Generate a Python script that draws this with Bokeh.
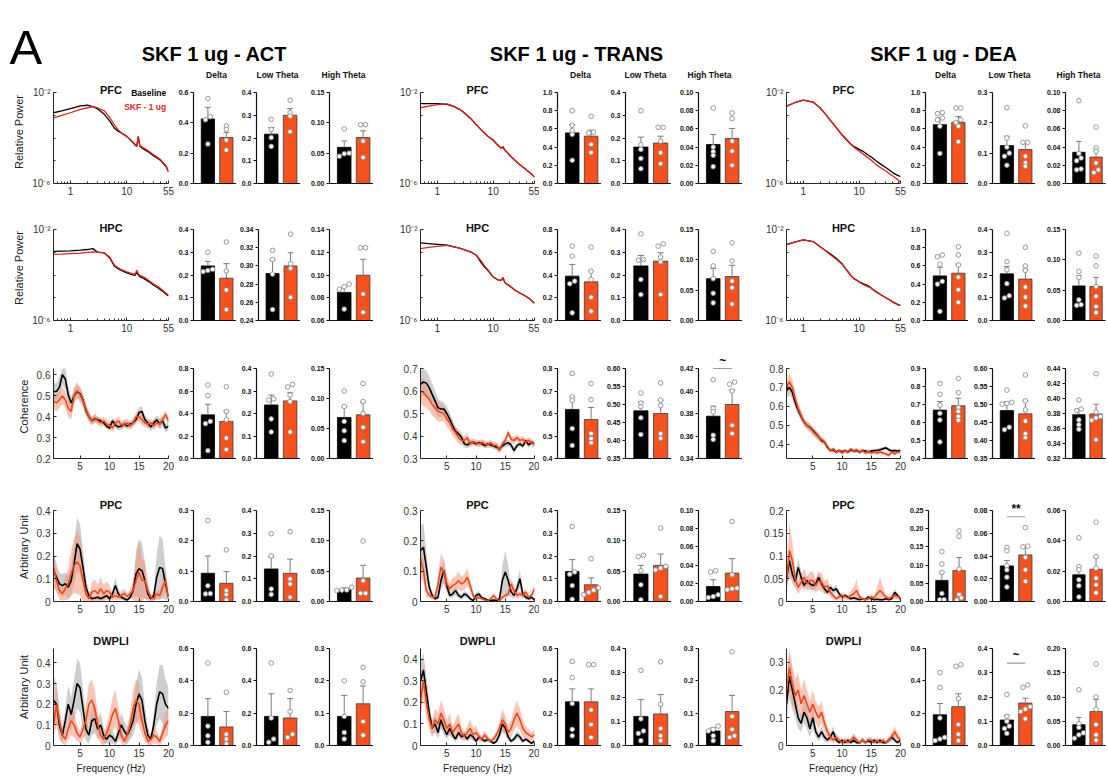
from bokeh.plotting import figure
from bokeh.layouts import column, row
from bokeh.models import Range1d, FixedTicker, CustomJSTickFormatter, PrintfTickFormatter, Label
from bokeh.embed import file_html
from bokeh.resources import INLINE

FONT = "Liberation Sans"

# ======================= DATA =======================
COL_TITLES = ["SKF 1 ug - ACT", "SKF 1 ug - TRANS", "SKF 1 ug - DEA"]
COLS = ["ACT", "TRANS", "DEA"]
ROWS = ["PFC", "HPC", "COH", "PPC", "DWPLI"]
ROW_TITLES = ["PFC", "HPC", None, "PPC", "DWPLI"]
Y_LABELS = ["Relative Power", "Relative Power", "Coherence", "Arbitrary Unit", "Arbitrary Unit"]
BANDS = ["Delta", "Low Theta", "High Theta"]
LEGEND = ["Baseline", "SKF - 1 ug"]

# ---- power spectra (log10 of relative power) ----
PSD_FREQ = [0.5, 0.7, 1, 1.5, 2, 2.5, 3, 4, 5, 6, 7, 8, 10, 12, 14, 15, 16, 17, 20, 25, 30, 35, 40, 45, 50, 55]
PFC_ACT_BASE_LOG10 = [-2.89, -2.81, -2.71, -2.59, -2.56, -2.62, -2.71, -2.96, -3.26, -3.56, -3.70, -3.78, -3.93, -4.12, -4.30, -4.38, -3.95, -4.35, -4.49, -4.64, -4.79, -4.89, -4.99, -5.14, -5.26, -5.48]
PFC_ACT_SKF_LOG10 = [-3.11, -3.01, -2.89, -2.74, -2.67, -2.62, -2.67, -2.81, -3.11, -3.41, -3.63, -3.78, -3.93, -4.10, -4.28, -4.36, -3.92, -4.33, -4.44, -4.59, -4.74, -4.85, -4.96, -5.11, -5.23, -5.48]
PFC_TRANS_BASE_LOG10 = [-2.49, -2.49, -2.49, -2.52, -2.62, -2.74, -2.88, -3.15, -3.42, -3.62, -3.78, -3.92, -4.09, -4.30, -4.45, -4.38, -4.52, -4.58, -4.78, -5.00, -5.18, -5.30, -5.42, -5.52, -5.62, -5.72]
PFC_TRANS_SKF_LOG10 = [-2.67, -2.60, -2.53, -2.50, -2.61, -2.74, -2.89, -3.16, -3.43, -3.62, -3.77, -3.91, -4.10, -4.31, -4.46, -4.40, -4.53, -4.58, -4.77, -5.00, -5.17, -5.30, -5.42, -5.51, -5.61, -5.72]
PFC_DEA_BASE_LOG10 = [-2.60, -2.45, -2.34, -2.42, -2.68, -2.95, -3.20, -3.58, -3.88, -4.08, -4.25, -4.37, -4.50, -4.60, -4.72, -4.78, -4.82, -4.86, -5.00, -5.17, -5.30, -5.42, -5.52, -5.60, -5.65, -5.70]
PFC_DEA_SKF_LOG10 = [-2.60, -2.45, -2.34, -2.42, -2.68, -2.95, -3.20, -3.58, -3.89, -4.10, -4.27, -4.40, -4.58, -4.72, -4.85, -4.90, -4.95, -5.00, -5.17, -5.33, -5.45, -5.57, -5.67, -5.76, -5.85, -5.93]
HPC_ACT_BASE_LOG10 = [-2.96, -2.95, -2.94, -2.91, -2.88, -2.84, -2.99, -3.03, -3.25, -3.60, -3.72, -3.80, -3.91, -3.97, -4.02, -3.88, -4.00, -4.07, -4.15, -4.30, -4.45, -4.55, -4.66, -4.75, -4.85, -4.92]
HPC_ACT_SKF_LOG10 = [-3.09, -3.08, -3.06, -3.04, -3.01, -2.98, -2.99, -3.03, -3.22, -3.56, -3.68, -3.76, -3.86, -3.93, -3.97, -3.79, -3.95, -4.02, -4.09, -4.25, -4.40, -4.50, -4.60, -4.70, -4.80, -4.88]
HPC_TRANS_BASE_LOG10 = [-2.59, -2.62, -2.65, -2.69, -2.76, -2.82, -2.88, -2.99, -3.13, -3.43, -3.65, -3.79, -4.09, -4.21, -4.24, -4.12, -4.30, -4.38, -4.49, -4.68, -4.79, -4.88, -4.97, -5.05, -5.15, -5.24]
HPC_TRANS_SKF_LOG10 = [-2.84, -2.79, -2.74, -2.70, -2.76, -2.82, -2.88, -2.99, -3.13, -3.36, -3.60, -3.77, -4.08, -4.20, -4.24, -4.10, -4.29, -4.37, -4.48, -4.67, -4.78, -4.87, -4.96, -5.04, -5.14, -5.23]
HPC_DEA_BASE_LOG10 = [-2.65, -2.55, -2.46, -2.53, -2.76, -2.92, -3.06, -3.29, -3.52, -3.79, -4.00, -4.15, -4.30, -4.39, -4.46, -4.50, -4.55, -4.60, -4.73, -4.88, -5.00, -5.09, -5.18, -5.25, -5.30, -5.33]
HPC_DEA_SKF_LOG10 = [-2.68, -2.56, -2.46, -2.53, -2.76, -2.93, -3.10, -3.33, -3.54, -3.80, -4.01, -4.16, -4.31, -4.43, -4.50, -4.53, -4.57, -4.62, -4.74, -4.89, -5.01, -5.10, -5.19, -5.26, -5.31, -5.35]

# ---- coherence / PPC / DWPLI spectra (mean and SEM) ----
FREQ = [0.5, 1.0, 1.5, 2.0, 2.5, 3.0, 3.5, 4.0, 4.5, 5.0, 5.5, 6.0, 6.5, 7.0, 7.5, 8.0, 8.5, 9.0, 9.5, 10.0,
        10.5, 11.0, 11.5, 12.0, 12.5, 13.0, 13.5, 14.0, 14.5, 15.0, 15.5, 16.0, 16.5, 17.0, 17.5, 18.0, 18.5, 19.0, 19.5, 20.0]

COH_ACT_BASE = [0.52, 0.52, 0.54, 0.60, 0.58, 0.505, 0.465, 0.50, 0.52, 0.51, 0.48, 0.43, 0.40, 0.38, 0.39, 0.385, 0.38, 0.37, 0.355, 0.345, 0.38, 0.36, 0.35, 0.355, 0.365, 0.355, 0.365, 0.37, 0.385, 0.42, 0.425, 0.385, 0.37, 0.35, 0.37, 0.385, 0.365, 0.38, 0.345, 0.355]
COH_ACT_BASE_SEM = [0.04, 0.04, 0.05, 0.05, 0.05, 0.04, 0.03, 0.03, 0.03, 0.03, 0.03, 0.025, 0.02, 0.02, 0.02, 0.015, 0.015, 0.015, 0.015, 0.015, 0.015, 0.015, 0.015, 0.015, 0.015, 0.015, 0.015, 0.015, 0.02, 0.025, 0.025, 0.02, 0.02, 0.02, 0.02, 0.02, 0.025, 0.025, 0.02, 0.02]
COH_ACT_SKF = [0.475, 0.465, 0.48, 0.50, 0.48, 0.44, 0.425, 0.50, 0.525, 0.505, 0.475, 0.435, 0.40, 0.38, 0.395, 0.38, 0.37, 0.38, 0.365, 0.36, 0.345, 0.37, 0.38, 0.36, 0.365, 0.37, 0.355, 0.37, 0.40, 0.40, 0.385, 0.37, 0.365, 0.37, 0.355, 0.37, 0.365, 0.385, 0.41, 0.38]
COH_ACT_SKF_SEM = [0.04, 0.04, 0.04, 0.04, 0.04, 0.04, 0.04, 0.04, 0.04, 0.035, 0.03, 0.03, 0.025, 0.02, 0.02, 0.02, 0.02, 0.02, 0.02, 0.02, 0.02, 0.02, 0.02, 0.02, 0.02, 0.02, 0.02, 0.02, 0.02, 0.025, 0.025, 0.02, 0.02, 0.02, 0.02, 0.02, 0.02, 0.02, 0.02, 0.02]

COH_TRANS_BASE = [0.63, 0.64, 0.635, 0.615, 0.585, 0.555, 0.525, 0.52, 0.52, 0.50, 0.475, 0.445, 0.42, 0.41, 0.395, 0.365, 0.36, 0.37, 0.372, 0.365, 0.37, 0.365, 0.357, 0.365, 0.36, 0.355, 0.35, 0.343, 0.355, 0.365, 0.37, 0.36, 0.335, 0.357, 0.365, 0.355, 0.38, 0.36, 0.372, 0.365]
COH_TRANS_BASE_SEM = [0.06, 0.06, 0.055, 0.05, 0.05, 0.045, 0.04, 0.035, 0.03, 0.03, 0.03, 0.025, 0.02, 0.02, 0.02, 0.015, 0.015, 0.015, 0.012, 0.012, 0.012, 0.012, 0.012, 0.012, 0.012, 0.012, 0.012, 0.012, 0.012, 0.015, 0.015, 0.015, 0.015, 0.012, 0.012, 0.012, 0.012, 0.012, 0.012, 0.012]
COH_TRANS_SKF = [0.60, 0.593, 0.578, 0.563, 0.54, 0.525, 0.51, 0.505, 0.50, 0.475, 0.46, 0.43, 0.415, 0.393, 0.38, 0.38, 0.393, 0.365, 0.375, 0.37, 0.365, 0.372, 0.365, 0.36, 0.37, 0.357, 0.36, 0.335, 0.365, 0.38, 0.415, 0.385, 0.38, 0.393, 0.38, 0.385, 0.372, 0.38, 0.372, 0.36]
COH_TRANS_SKF_SEM = [0.06, 0.06, 0.055, 0.05, 0.05, 0.045, 0.045, 0.04, 0.035, 0.035, 0.035, 0.03, 0.03, 0.025, 0.02, 0.02, 0.02, 0.015, 0.015, 0.015, 0.015, 0.015, 0.015, 0.015, 0.015, 0.015, 0.015, 0.015, 0.015, 0.015, 0.015, 0.015, 0.015, 0.015, 0.015, 0.015, 0.015, 0.015, 0.015, 0.015]

COH_DEA_BASE = [0.685, 0.70, 0.675, 0.62, 0.58, 0.548, 0.518, 0.50, 0.49, 0.475, 0.457, 0.44, 0.42, 0.413, 0.385, 0.368, 0.372, 0.36, 0.368, 0.36, 0.368, 0.36, 0.372, 0.365, 0.368, 0.36, 0.368, 0.365, 0.36, 0.365, 0.368, 0.368, 0.372, 0.377, 0.382, 0.372, 0.365, 0.368, 0.365, 0.368]
COH_DEA_BASE_SEM = [0.04, 0.04, 0.035, 0.03, 0.025, 0.02, 0.02, 0.02, 0.02, 0.02, 0.02, 0.015, 0.015, 0.015, 0.01, 0.01, 0.01, 0.01, 0.01, 0.01, 0.01, 0.01, 0.01, 0.01, 0.01, 0.01, 0.01, 0.01, 0.01, 0.01, 0.01, 0.01, 0.01, 0.01, 0.01, 0.01, 0.01, 0.01, 0.01, 0.01]
COH_DEA_SKF = [0.70, 0.73, 0.70, 0.64, 0.59, 0.553, 0.518, 0.50, 0.488, 0.47, 0.453, 0.44, 0.425, 0.413, 0.39, 0.368, 0.377, 0.36, 0.368, 0.355, 0.368, 0.36, 0.377, 0.365, 0.372, 0.36, 0.368, 0.355, 0.365, 0.355, 0.36, 0.355, 0.36, 0.355, 0.35, 0.343, 0.36, 0.35, 0.36, 0.36]
COH_DEA_SKF_SEM = [0.04, 0.045, 0.04, 0.035, 0.03, 0.025, 0.02, 0.02, 0.02, 0.02, 0.02, 0.02, 0.015, 0.015, 0.015, 0.01, 0.01, 0.01, 0.01, 0.01, 0.01, 0.01, 0.01, 0.01, 0.01, 0.01, 0.01, 0.01, 0.01, 0.01, 0.01, 0.01, 0.01, 0.01, 0.01, 0.01, 0.01, 0.01, 0.01, 0.01]

PPC_ACT_BASE = [0.136, 0.107, 0.078, 0.07, 0.078, 0.063, 0.092, 0.166, 0.254, 0.23, 0.15, 0.063, 0.026, 0.012, 0.015, 0.019, 0.012, 0.019, 0.026, 0.012, 0.034, 0.07, 0.034, 0.019, 0.012, 0.007, 0.019, 0.048, 0.122, 0.144, 0.136, 0.092, 0.034, 0.012, 0.026, 0.107, 0.15, 0.144, 0.078, 0.019]
PPC_ACT_BASE_SEM = [0.08, 0.06, 0.05, 0.05, 0.05, 0.05, 0.06, 0.09, 0.115, 0.11, 0.08, 0.04, 0.02, 0.01, 0.01, 0.01, 0.01, 0.01, 0.015, 0.01, 0.02, 0.035, 0.02, 0.01, 0.01, 0.005, 0.01, 0.03, 0.1, 0.13, 0.12, 0.08, 0.03, 0.01, 0.02, 0.1, 0.14, 0.13, 0.07, 0.01]
PPC_ACT_SKF = [0.15, 0.092, 0.048, 0.034, 0.056, 0.078, 0.122, 0.158, 0.173, 0.158, 0.092, 0.034, 0.012, 0.041, 0.048, 0.034, 0.056, 0.034, 0.048, 0.041, 0.019, 0.026, 0.019, 0.026, 0.037, 0.022, 0.034, 0.048, 0.092, 0.129, 0.092, 0.092, 0.048, 0.019, 0.012, 0.034, 0.026, 0.063, 0.092, 0.019]
PPC_ACT_SKF_SEM = [0.07, 0.05, 0.04, 0.03, 0.05, 0.07, 0.1, 0.12, 0.14, 0.13, 0.09, 0.04, 0.02, 0.04, 0.05, 0.04, 0.05, 0.04, 0.04, 0.03, 0.015, 0.02, 0.015, 0.02, 0.02, 0.015, 0.02, 0.04, 0.1, 0.14, 0.1, 0.08, 0.04, 0.015, 0.01, 0.02, 0.02, 0.04, 0.05, 0.02]

PPC_TRANS_BASE = [0.168, 0.179, 0.113, 0.047, 0.02, 0.009, 0.014, 0.069, 0.102, 0.053, 0.02, 0.025, 0.036, 0.02, 0.014, 0.025, 0.02, 0.009, 0.003, 0.02, 0.025, 0.012, 0.009, 0.005, 0.003, 0.005, 0.003, 0.009, 0.069, 0.097, 0.069, 0.031, 0.02, 0.042, 0.075, 0.025, 0.014, 0.009, 0.014, 0.005]
PPC_TRANS_BASE_SEM = [0.08, 0.08, 0.05, 0.02, 0.01, 0.005, 0.01, 0.03, 0.04, 0.02, 0.01, 0.01, 0.015, 0.01, 0.01, 0.01, 0.01, 0.005, 0.003, 0.01, 0.01, 0.005, 0.005, 0.003, 0.002, 0.003, 0.002, 0.005, 0.05, 0.07, 0.05, 0.015, 0.01, 0.02, 0.03, 0.01, 0.008, 0.005, 0.008, 0.003]
PPC_TRANS_SKF = [0.141, 0.102, 0.036, 0.02, 0.016, 0.014, 0.058, 0.113, 0.097, 0.058, 0.042, 0.053, 0.058, 0.069, 0.058, 0.064, 0.08, 0.053, 0.02, 0.009, 0.014, 0.009, 0.005, 0.003, 0.009, 0.02, 0.009, 0.001, 0.014, 0.02, 0.025, 0.058, 0.036, 0.02, 0.025, 0.02, 0.031, 0.014, 0.02, 0.042]
PPC_TRANS_SKF_SEM = [0.06, 0.04, 0.02, 0.01, 0.01, 0.01, 0.03, 0.045, 0.04, 0.03, 0.02, 0.025, 0.025, 0.03, 0.025, 0.025, 0.03, 0.02, 0.01, 0.005, 0.005, 0.005, 0.003, 0.002, 0.005, 0.01, 0.005, 0.001, 0.005, 0.01, 0.01, 0.02, 0.015, 0.01, 0.01, 0.01, 0.01, 0.005, 0.01, 0.015]

PPC_DEA_BASE = [0.05, 0.09, 0.06, 0.044, 0.075, 0.053, 0.035, 0.046, 0.039, 0.035, 0.039, 0.053, 0.039, 0.028, 0.02, 0.031, 0.024, 0.028, 0.017, 0.01, 0.013, 0.01, 0.006, 0.008, 0.006, 0.004, 0.006, 0.004, 0.01, 0.006, 0.004, 0.005, 0.004, 0.004, 0.006, 0.004, 0.006, 0.02, 0.013, 0.006]
PPC_DEA_BASE_SEM = [0.02, 0.03, 0.02, 0.015, 0.02, 0.015, 0.01, 0.012, 0.01, 0.01, 0.01, 0.012, 0.01, 0.008, 0.006, 0.008, 0.006, 0.008, 0.005, 0.004, 0.004, 0.004, 0.003, 0.003, 0.003, 0.002, 0.003, 0.002, 0.004, 0.003, 0.002, 0.002, 0.002, 0.002, 0.003, 0.002, 0.003, 0.008, 0.005, 0.003]
PPC_DEA_SKF = [0.046, 0.112, 0.09, 0.05, 0.031, 0.042, 0.053, 0.039, 0.046, 0.046, 0.035, 0.046, 0.042, 0.031, 0.035, 0.02, 0.013, 0.006, 0.01, 0.013, 0.011, 0.008, 0.013, 0.017, 0.024, 0.01, 0.006, 0.004, 0.006, 0.01, 0.008, 0.017, 0.024, 0.017, 0.01, 0.006, 0.01, 0.013, 0.011, 0.008]
PPC_DEA_SKF_SEM = [0.02, 0.06, 0.04, 0.02, 0.015, 0.015, 0.02, 0.015, 0.02, 0.02, 0.015, 0.02, 0.02, 0.015, 0.015, 0.01, 0.008, 0.004, 0.006, 0.008, 0.006, 0.005, 0.01, 0.015, 0.025, 0.006, 0.004, 0.002, 0.004, 0.006, 0.005, 0.015, 0.03, 0.015, 0.006, 0.004, 0.006, 0.008, 0.006, 0.005]

DWPLI_ACT_BASE = [0.22, 0.2, 0.1, 0.05, 0.12, 0.2, 0.15, 0.22, 0.3, 0.28, 0.18, 0.08, 0.05, 0.12, 0.13, 0.08, 0.1, 0.05, 0.03, 0.05, 0.04, 0.02, 0.06, 0.1, 0.07, 0.05, 0.08, 0.12, 0.2, 0.25, 0.22, 0.12, 0.05, 0.03, 0.1, 0.2, 0.26, 0.25, 0.2, 0.18]
DWPLI_ACT_BASE_SEM = [0.12, 0.1, 0.07, 0.04, 0.06, 0.09, 0.08, 0.1, 0.12, 0.12, 0.1, 0.06, 0.04, 0.07, 0.07, 0.05, 0.06, 0.04, 0.02, 0.04, 0.03, 0.02, 0.04, 0.06, 0.05, 0.04, 0.05, 0.07, 0.1, 0.12, 0.11, 0.07, 0.04, 0.02, 0.06, 0.1, 0.13, 0.14, 0.12, 0.1]
DWPLI_ACT_SKF = [0.1, 0.2, 0.12, 0.05, 0.03, 0.08, 0.12, 0.1, 0.06, 0.04, 0.08, 0.12, 0.2, 0.22, 0.18, 0.1, 0.05, 0.03, 0.06, 0.1, 0.15, 0.18, 0.12, 0.05, 0.02, 0.05, 0.1, 0.18, 0.22, 0.2, 0.12, 0.06, 0.02, 0.03, 0.05, 0.04, 0.02, 0.06, 0.1, 0.12]
DWPLI_ACT_SKF_SEM = [0.06, 0.1, 0.07, 0.04, 0.03, 0.05, 0.07, 0.06, 0.04, 0.03, 0.05, 0.07, 0.1, 0.1, 0.09, 0.06, 0.04, 0.03, 0.04, 0.06, 0.08, 0.09, 0.07, 0.04, 0.02, 0.04, 0.06, 0.09, 0.1, 0.1, 0.07, 0.04, 0.02, 0.03, 0.04, 0.03, 0.02, 0.04, 0.06, 0.07]

DWPLI_TRANS_BASE = [0.3, 0.35, 0.25, 0.15, 0.08, 0.1, 0.06, 0.12, 0.08, 0.05, 0.08, 0.05, 0.03, 0.06, 0.04, 0.05, 0.03, 0.05, 0.04, 0.02, 0.04, 0.03, 0.02, 0.03, 0.02, 0.01, 0.02, 0.05, 0.1, 0.08, 0.04, 0.02, 0.03, 0.05, 0.04, 0.02, 0.03, 0.02, 0.01, 0.02]
DWPLI_TRANS_BASE_SEM = [0.08, 0.08, 0.07, 0.05, 0.03, 0.04, 0.03, 0.04, 0.03, 0.02, 0.03, 0.02, 0.015, 0.02, 0.015, 0.02, 0.015, 0.02, 0.015, 0.01, 0.015, 0.01, 0.01, 0.01, 0.01, 0.005, 0.01, 0.02, 0.04, 0.03, 0.02, 0.01, 0.01, 0.02, 0.015, 0.01, 0.01, 0.01, 0.005, 0.01]
DWPLI_TRANS_SKF = [0.2, 0.3, 0.2, 0.12, 0.08, 0.12, 0.1, 0.15, 0.12, 0.08, 0.1, 0.06, 0.08, 0.1, 0.06, 0.04, 0.06, 0.08, 0.05, 0.06, 0.04, 0.03, 0.05, 0.03, 0.02, 0.03, 0.05, 0.08, 0.12, 0.1, 0.06, 0.08, 0.12, 0.15, 0.12, 0.08, 0.06, 0.05, 0.04, 0.05]
DWPLI_TRANS_SKF_SEM = [0.07, 0.08, 0.07, 0.05, 0.04, 0.05, 0.05, 0.06, 0.05, 0.04, 0.05, 0.03, 0.04, 0.05, 0.03, 0.02, 0.03, 0.04, 0.03, 0.03, 0.02, 0.015, 0.02, 0.015, 0.01, 0.015, 0.02, 0.03, 0.05, 0.04, 0.03, 0.04, 0.05, 0.06, 0.05, 0.04, 0.03, 0.025, 0.02, 0.025]

DWPLI_DEA_BASE = [0.15, 0.25, 0.2, 0.15, 0.1, 0.08, 0.12, 0.1, 0.06, 0.1, 0.05, 0.03, 0.05, 0.03, 0.02, 0.03, 0.05, 0.02, 0.01, 0.02, 0.01, 0.02, 0.01, 0.02, 0.01, 0.01, 0.02, 0.01, 0.02, 0.01, 0.02, 0.01, 0.02, 0.01, 0.01, 0.02, 0.03, 0.02, 0.01, 0.02]
DWPLI_DEA_BASE_SEM = [0.06, 0.08, 0.07, 0.05, 0.04, 0.03, 0.04, 0.04, 0.03, 0.04, 0.02, 0.015, 0.02, 0.015, 0.01, 0.015, 0.02, 0.01, 0.005, 0.01, 0.005, 0.01, 0.005, 0.01, 0.005, 0.005, 0.01, 0.005, 0.01, 0.005, 0.01, 0.005, 0.01, 0.005, 0.005, 0.01, 0.015, 0.01, 0.005, 0.01]
DWPLI_DEA_SKF = [0.2, 0.28, 0.22, 0.18, 0.2, 0.15, 0.18, 0.15, 0.12, 0.15, 0.12, 0.1, 0.12, 0.08, 0.05, 0.03, 0.02, 0.03, 0.02, 0.01, 0.02, 0.01, 0.02, 0.03, 0.02, 0.01, 0.02, 0.01, 0.02, 0.02, 0.01, 0.02, 0.01, 0.02, 0.01, 0.02, 0.03, 0.05, 0.03, 0.02]
DWPLI_DEA_SKF_SEM = [0.07, 0.08, 0.07, 0.06, 0.06, 0.05, 0.06, 0.05, 0.04, 0.05, 0.04, 0.04, 0.04, 0.03, 0.02, 0.015, 0.01, 0.015, 0.01, 0.005, 0.01, 0.005, 0.01, 0.015, 0.01, 0.005, 0.01, 0.005, 0.01, 0.01, 0.005, 0.01, 0.005, 0.01, 0.005, 0.01, 0.015, 0.02, 0.015, 0.01]

# line-plot y axes (range, ticks) for rows 3-5
LINE_YAXIS = {
    ("COH", "ACT"): (0.2, 0.63, [0.2, 0.3, 0.4, 0.5, 0.6]),
    ("COH", "TRANS"): (0.3, 0.7, [0.3, 0.4, 0.5, 0.6, 0.7]),
    ("COH", "DEA"): (0.326, 0.8, [0.4, 0.5, 0.6, 0.7, 0.8]),
    ("PPC", "ACT"): (0.0, 0.4, [0, 0.1, 0.2, 0.3, 0.4]),
    ("PPC", "TRANS"): (0.0, 0.3, [0, 0.1, 0.2, 0.3]),
    ("PPC", "DEA"): (0.0, 0.2, [0, 0.05, 0.1, 0.15, 0.2]),
    ("DWPLI", "ACT"): (0.0, 0.47, [0, 0.1, 0.2, 0.3, 0.4]),
    ("DWPLI", "TRANS"): (0.0, 0.45, [0, 0.1, 0.2, 0.3, 0.4]),
    ("DWPLI", "DEA"): (0.0, 0.35, [0, 0.1, 0.2, 0.3]),
}

# ---- band bar charts: [baseline, SKF] means, SEMs, individual animals; y axes ----
PFC_ACT_MEAN = [[0.426, 0.217, 0.0596], [0.303, 0.300, 0.0758]]
PFC_ACT_SEM = [[0.076, 0.029, 0.0104], [0.032, 0.029, 0.011]]
PFC_ACT_PTS = [[[0.56, 0.44, 0.42, 0.26], [0.282, 0.238, 0.202, 0.163], [0.090, 0.050, 0.049, 0.045]],
               [[0.379, 0.357, 0.286, 0.221], [0.366, 0.311, 0.296, 0.228], [0.097, 0.097, 0.070, 0.043]]]
PFC_ACT_YAX = [(0, 0.6, [0, 0.2, 0.4, 0.6]), (0, 0.4, [0, 0.1, 0.2, 0.3, 0.4]), (0, 0.15, [0, 0.05, 0.10, 0.15])]

PFC_TRANS_MEAN = [[0.556, 0.160, 0.0429], [0.520, 0.178, 0.0495]]
PFC_TRANS_SEM = [[0.091, 0.044, 0.011], [0.065, 0.030, 0.011]]
PFC_TRANS_PTS = [[[0.80, 0.64, 0.58, 0.54, 0.255], [0.32, 0.17, 0.15, 0.11, 0.065], [0.083, 0.040, 0.035, 0.031, 0.0185]],
                 [[0.738, 0.564, 0.556, 0.43, 0.34], [0.247, 0.247, 0.186, 0.135, 0.087], [0.0775, 0.0713, 0.0466, 0.0356, 0.020]]]
PFC_TRANS_YAX = [(0, 1.0, [0, 0.2, 0.4, 0.6, 0.8, 1.0]), (0, 0.4, [0, 0.1, 0.2, 0.3, 0.4]), (0, 0.10, [0, 0.02, 0.04, 0.06, 0.08, 0.10])]

PFC_DEA_MEAN = [[0.646, 0.125, 0.0343], [0.672, 0.112, 0.029]]
PFC_DEA_SEM = [[0.080, 0.031, 0.012], [0.065, 0.024, 0.0064]]
PFC_DEA_PTS = [[[0.77, 0.78, 0.72, 0.70, 0.63, 0.33], [0.25, 0.15, 0.12, 0.10, 0.09, 0.06], [0.091, 0.033, 0.028, 0.025, 0.016, 0.015]],
               [[0.83, 0.83, 0.70, 0.67, 0.63, 0.46], [0.19, 0.136, 0.136, 0.09, 0.068, 0.057], [0.062, 0.039, 0.0354, 0.0226, 0.015, 0.012]]]
PFC_DEA_YAX = [(0, 1.0, [0, 0.2, 0.4, 0.6, 0.8, 1.0]), (0, 0.3, [0, 0.1, 0.2, 0.3]), (0, 0.10, [0, 0.02, 0.04, 0.06, 0.08, 0.10])]

HPC_ACT_MEAN = [[0.240, 0.2916, 0.0847], [0.186, 0.300, 0.0998]]
HPC_ACT_SEM = [[0.020, 0.0154, 0.0043], [0.064, 0.0145, 0.014]]
HPC_ACT_PTS = [[[0.30, 0.225, 0.22, 0.215], [0.317, 0.307, 0.291, 0.252], [0.092, 0.0897, 0.0876, 0.070]],
               [[0.345, 0.218, 0.134, 0.048], [0.335, 0.3025, 0.2975, 0.2655], [0.124, 0.124, 0.0833, 0.0673]]]
HPC_ACT_YAX = [(0, 0.4, [0, 0.1, 0.2, 0.3, 0.4]), (0.24, 0.34, [0.24, 0.26, 0.28, 0.30, 0.32, 0.34]), (0.06, 0.14, [0.06, 0.08, 0.10, 0.12, 0.14])]

HPC_TRANS_MEAN = [[0.390, 0.240, 0.069], [0.340, 0.261, 0.0725]]
HPC_TRANS_SEM = [[0.103, 0.046, 0.017], [0.094, 0.037, 0.0185]]
HPC_TRANS_PTS = [[[0.654, 0.566, 0.346, 0.323, 0.067], [0.381, 0.268, 0.265, 0.18, 0.114], [0.114, 0.09, 0.069, 0.045, 0.029]],
                 [[0.645, 0.434, 0.36, 0.205, 0.082], [0.337, 0.327, 0.279, 0.258, 0.114], [0.128, 0.098, 0.065, 0.054, 0.027]]]
HPC_TRANS_YAX = [(0, 0.8, [0, 0.2, 0.4, 0.6, 0.8]), (0, 0.4, [0, 0.1, 0.2, 0.3, 0.4]), (0, 0.15, [0, 0.05, 0.10, 0.15])]

HPC_DEA_MEAN = [[0.490, 0.205, 0.057], [0.520, 0.182, 0.056]]
HPC_DEA_SEM = [[0.095, 0.032, 0.017], [0.100, 0.041, 0.015]]
HPC_DEA_PTS = [[[0.72, 0.70, 0.62, 0.43, 0.40, 0.10], [0.383, 0.259, 0.223, 0.162, 0.109, 0.099], [0.111, 0.081, 0.071, 0.034, 0.026, 0.025]],
               [[0.81, 0.72, 0.61, 0.476, 0.338, 0.20], [0.322, 0.24, 0.22, 0.147, 0.103, 0.063], [0.106, 0.09, 0.056, 0.04, 0.023, 0.013]]]
HPC_DEA_YAX = [(0, 1.0, [0, 0.2, 0.4, 0.6, 0.8, 1.0]), (0, 0.4, [0, 0.1, 0.2, 0.3, 0.4]), (0, 0.15, [0, 0.05, 0.10, 0.15])]

COH_ACT_MEAN = [[0.388, 0.238, 0.0684], [0.330, 0.256, 0.0728]]
COH_ACT_SEM = [[0.094, 0.044, 0.018], [0.094, 0.038, 0.021]]
COH_ACT_PTS = [[[0.653, 0.559, 0.33, 0.31, 0.07], [0.375, 0.265, 0.26, 0.176, 0.118], [0.1125, 0.0866, 0.0618, 0.0463, 0.0298]],
               [[0.638, 0.418, 0.344, 0.182, 0.08], [0.329, 0.318, 0.282, 0.253, 0.118], [0.125, 0.095, 0.075, 0.052, 0.028]]]
COH_ACT_YAX = [(0, 0.8, [0, 0.2, 0.4, 0.6, 0.8]), (0, 0.4, [0, 0.1, 0.2, 0.3, 0.4]), (0, 0.15, [0, 0.05, 0.10, 0.15])]

COH_TRANS_MEAN = [[0.618, 0.4824, 0.3776], [0.573, 0.475, 0.388]]
COH_TRANS_SEM = [[0.056, 0.025, 0.009], [0.054, 0.037, 0.0127]]
COH_TRANS_PTS = [[[0.778, 0.674, 0.659, 0.533, 0.458], [0.532, 0.504, 0.494, 0.463, 0.4167], [0.410, 0.3844, 0.3815, 0.3607, 0.3569]],
                 [[0.733, 0.662, 0.511, 0.489, 0.47], [0.56, 0.512, 0.497, 0.419, 0.406], [0.408, 0.406, 0.400, 0.3696, 0.3622]]]
COH_TRANS_YAX = [(0.4, 0.8, [0.4, 0.5, 0.6, 0.7, 0.8]), (0.35, 0.60, [0.35, 0.40, 0.45, 0.50, 0.55, 0.60]), (0.34, 0.42, [0.34, 0.36, 0.38, 0.40, 0.42])]

COH_DEA_MEAN = [[0.669, 0.483, 0.3785], [0.693, 0.474, 0.3794]]
COH_DEA_SEM = [[0.048, 0.025, 0.0075], [0.042, 0.036, 0.013]]
COH_DEA_PTS = [[[0.816, 0.757, 0.697, 0.651, 0.614, 0.492], [0.54, 0.506, 0.503, 0.501, 0.437, 0.43], [0.398, 0.386, 0.384, 0.3715, 0.365, 0.359]],
               [[0.845, 0.766, 0.684, 0.662, 0.633, 0.612], [0.582, 0.51, 0.485, 0.454, 0.419, 0.408], [0.433, 0.382, 0.376, 0.374, 0.371, 0.345]]]
COH_DEA_YAX = [(0.4, 0.9, [0.4, 0.5, 0.6, 0.7, 0.8, 0.9]), (0.35, 0.60, [0.35, 0.40, 0.45, 0.50, 0.55, 0.60]), (0.32, 0.44, [0.32, 0.34, 0.36, 0.38, 0.40, 0.42, 0.44])]

PPC_ACT_MEAN = [[0.093, 0.143, 0.0191], [0.060, 0.124, 0.0387]]
PPC_ACT_SEM = [[0.057, 0.051, 0.0033], [0.039, 0.062, 0.021]]
PPC_ACT_PTS = [[[0.267, 0.052, 0.025, 0.026], [0.298, 0.20, 0.055, 0.031], [0.0235, 0.019, 0.0188, 0.018]],
               [[0.17, 0.036, 0.023, 0.005], [0.307, 0.099, 0.077, 0.019], [0.0998, 0.0344, 0.0136, 0.0136]]]
PPC_ACT_YAX = [(0, 0.3, [0, 0.1, 0.2, 0.3]), (0, 0.4, [0, 0.1, 0.2, 0.3, 0.4]), (0, 0.15, [0, 0.05, 0.10, 0.15])]

PPC_TRANS_MEAN = [[0.132, 0.0452, 0.0165], [0.0735, 0.0596, 0.0312]]
PPC_TRANS_SEM = [[0.052, 0.0144, 0.0074], [0.030, 0.0187, 0.0158]]
PPC_TRANS_PTS = [[[0.33, 0.13, 0.12, 0.07, 0.01], [0.0761, 0.0739, 0.0507, 0.0276, 0.0028], [0.0338, 0.0324, 0.0074, 0.0055, 0.0044]],
                 [[0.188, 0.06, 0.05, 0.04, 0.03], [0.121, 0.058, 0.055, 0.052, 0.0083], [0.088, 0.0294, 0.0147, 0.014, 0.0129]]]
PPC_TRANS_YAX = [(0, 0.4, [0, 0.1, 0.2, 0.3, 0.4]), (0, 0.15, [0, 0.05, 0.10, 0.15]), (0, 0.10, [0, 0.02, 0.04, 0.06, 0.08, 0.10])]

PPC_DEA_MEAN = [[0.058, 0.0313, 0.0176], [0.085, 0.0409, 0.0213]]
PPC_DEA_SEM = [[0.022, 0.0047, 0.0054], [0.036, 0.0066, 0.0078]]
PPC_DEA_PTS = [[[0.137, 0.103, 0.08, 0.022, 0.005, 0.005], [0.0475, 0.0446, 0.0313, 0.0278, 0.0214, 0.0128], [0.042, 0.023, 0.0209, 0.0143, 0.0104, 0.003]],
               [[0.194, 0.179, 0.089, 0.019, 0.01, 0.004], [0.065, 0.0487, 0.0481, 0.0388, 0.0278, 0.0177], [0.0524, 0.0296, 0.022, 0.0154, 0.011, 0.0057]]]
PPC_DEA_YAX = [(0, 0.25, [0, 0.05, 0.10, 0.15, 0.20, 0.25]), (0, 0.08, [0, 0.02, 0.04, 0.06, 0.08]), (0, 0.06, [0, 0.02, 0.04, 0.06])]

DWPLI_ACT_MEAN = [[0.180, 0.180, 0.090], [0.115, 0.170, 0.129]]
DWPLI_ACT_SEM = [[0.110, 0.140, 0.065], [0.095, 0.120, 0.055]]
DWPLI_ACT_PTS = [[[0.51, 0.12, 0.06, 0.02], [0.51, 0.17, 0.04, 0.02], [0.20, 0.09, 0.04, 0.02]],
                 [[0.33, 0.07, 0.04, 0.01], [0.34, 0.21, 0.07, 0.05], [0.242, 0.197, 0.074, 0.032]]]
DWPLI_ACT_YAX = [(0, 0.6, [0, 0.2, 0.4, 0.6]), (0, 0.6, [0, 0.2, 0.4, 0.6]), (0, 0.3, [0, 0.1, 0.2, 0.3])]

DWPLI_TRANS_MEAN = [[0.270, 0.120, 0.045], [0.270, 0.130, 0.105]]
DWPLI_TRANS_SEM = [[0.080, 0.070, 0.010], [0.080, 0.080, 0.050]]
DWPLI_TRANS_PTS = [[[0.52, 0.42, 0.26, 0.10, 0.06], [0.31, 0.11, 0.06, 0.05, 0.02], [0.06, 0.05, 0.045, 0.03, 0.015]],
                   [[0.50, 0.50, 0.22, 0.13, 0.05], [0.345, 0.17, 0.07, 0.04, 0.02], [0.29, 0.09, 0.05, 0.03, 0.025]]]
DWPLI_TRANS_YAX = [(0, 0.6, [0, 0.2, 0.4, 0.6]), (0, 0.4, [0, 0.1, 0.2, 0.3, 0.4]), (0, 0.3, [0, 0.1, 0.2, 0.3])]

DWPLI_DEA_MEAN = [[0.190, 0.105, 0.043], [0.240, 0.175, 0.070]]
DWPLI_DEA_SEM = [[0.070, 0.020, 0.015], [0.080, 0.020, 0.025]]
DWPLI_DEA_PTS = [[[0.45, 0.36, 0.17, 0.05, 0.04, 0.03], [0.21, 0.12, 0.10, 0.08, 0.07, 0.05], [0.115, 0.045, 0.037, 0.026, 0.022, 0.015]],
                 [[0.50, 0.49, 0.29, 0.13, 0.07, 0.03], [0.25, 0.24, 0.16, 0.15, 0.11, 0.14], [0.168, 0.10, 0.075, 0.043, 0.022, 0.011]]]
DWPLI_DEA_YAX = [(0, 0.6, [0, 0.2, 0.4, 0.6]), (0, 0.4, [0, 0.1, 0.2, 0.3, 0.4]), (0, 0.20, [0, 0.05, 0.10, 0.15, 0.20])]

# significance marks: (row, column, band index, symbol, level of the bracket line)
SIG_MARKS = [("COH", "TRANS", 2, "~", 0.42), ("PPC", "DEA", 1, "**", 0.0745), ("DWPLI", "DEA", 1, "~", 0.34)]

# ======================= LOOKUPS =======================
G = globals()
PSD = {(r, c): (G[f"{r}_{c}_BASE_LOG10"], G[f"{r}_{c}_SKF_LOG10"]) for r in ("PFC", "HPC") for c in COLS}
CURVES = {(r, c): (G[f"{r}_{c}_BASE"], G[f"{r}_{c}_BASE_SEM"], G[f"{r}_{c}_SKF"], G[f"{r}_{c}_SKF_SEM"])
          for r in ("COH", "PPC", "DWPLI") for c in COLS}
BARS = {(r, c): (G[f"{r}_{c}_MEAN"], G[f"{r}_{c}_SEM"], G[f"{r}_{c}_PTS"], G[f"{r}_{c}_YAX"]) for r in ROWS for c in COLS}

# ======================= STYLE / GEOMETRY =======================
BLACK = "#000000"
RED_PSD = "#E3211C"
RED_LINE = "#EC4A1E"
RED_BAR = "#F4511E"
GREY_BAND = "#b3b3b3"
RED_BAND = "#f2957a"
AX_COL = "#262626"

TITLE_H = 80
ROW_H = [125, 137, 138, 143, 155]
ROW_T = [0, 10, 12, 12, 5]        # border above every frame of the row
ROW_B = [22, 22, 22, 22, 33]      # border below
EXTS = [12, 14, 14, 18, 20]       # px of frame kept above the top tick
TITLE_GAP = [3, 2, 0, 6, 8]       # px between a panel title's baseline and the top tick
LINE_GEOM = [(53, 115, 7), (47, 114, 5), (44, 114, 6)]
BAR_GEOM = [[(15, 46, 0), (20, 44, 0), (29, 44, 0)],
            [(16, 46, 0), (24, 46, 0), (27, 44, 0)],
            [(19, 43, 0), (24, 43, 0), (30, 40, 3)]]
HEADER_X = [[216, 277, 343], [580, 645, 709], [945, 1009, 1078]]
COL_TITLE_X = [214, 576, 943]

SUPER_JS = """
const e = Math.round(Math.log10(tick));
const s = {'-':'\u207b','0':'\u2070','1':'\u00b9','2':'\u00b2','3':'\u00b3','4':'\u2074','5':'\u2075','6':'\u2076','7':'\u2077','8':'\u2078','9':'\u2079'};
return '10' + String(e).split('').map(c => s[c]).join('');
"""
PLAIN_JS = "return String(Math.round(tick * 1000) / 1000);"


def base_fig(width, height, l, r, t, b, **kw):
    p = figure(width=width, height=height, min_border_left=l, min_border_right=r,
               min_border_top=t, min_border_bottom=b, toolbar_location=None,
               output_backend="svg", title=None, **kw)
    p.outline_line_color = None
    p.grid.visible = False
    p.background_fill_color = "white"
    p.border_fill_color = "white"
    return p


def style_line_axis(ax):
    ax.axis_line_color = AX_COL
    ax.axis_line_width = 1
    ax.major_tick_line_color = AX_COL
    ax.major_tick_in = 3
    ax.major_tick_out = 0
    ax.minor_tick_line_color = AX_COL
    ax.minor_tick_in = 2
    ax.minor_tick_out = 0
    ax.major_label_text_font = FONT
    ax.major_label_text_font_size = "10px"
    ax.major_label_text_color = "#333333"
    ax.major_label_standoff = 3
    ax.axis_label_text_font = FONT
    ax.axis_label_text_font_size = "11px"
    ax.axis_label_text_font_style = "normal"
    ax.axis_label_text_color = "#222222"
    ax.axis_label_standoff = 4


def line_fig(ri, ci):
    rname, cname = ROWS[ri], COLS[ci]
    l, fw, r = LINE_GEOM[ci]
    H, T, B, E = ROW_H[ri], ROW_T[ri], ROW_B[ri], EXTS[ri]
    span_px = H - T - B - E
    if rname in ("PFC", "HPC"):
        lo, hi = 1e-6, 1e-2
        top = hi * 10 ** (4.0 * E / span_px)
        kw = dict(x_axis_type="log", y_axis_type="log", x_range=Range1d(0.5, 55), y_range=Range1d(lo, top))
        xc = (0.5 * 55) ** 0.5
    else:
        lo, hi, _ = LINE_YAXIS[(rname, cname)]
        top = hi + (hi - lo) * E / span_px
        kw = dict(x_range=Range1d(0.5, 20), y_range=Range1d(lo, top))
        xc = 10.25
    p = base_fig(l + fw + r, H, l, r, T, B, **kw)
    style_line_axis(p.xaxis[0])
    style_line_axis(p.yaxis[0])
    p.yaxis[0].bounds = (lo, hi)
    if ci == 0:
        p.yaxis[0].axis_label = Y_LABELS[ri]
    if ri == len(ROWS) - 1:
        p.xaxis[0].axis_label = "Frequency (Hz)"
        p.xaxis[0].axis_label_text_font_size = "10px"
        p.xaxis[0].axis_label_standoff = 3
    if ROW_TITLES[ri]:
        p.text(x=[xc], y=[hi], text=[ROW_TITLES[ri]], text_align="center", text_baseline="alphabetic",
               y_offset=-TITLE_GAP[ri], text_font={"value": FONT}, text_font_size="11px",
               text_font_style="bold", text_color="#111111")

    if rname in ("PFC", "HPC"):
        base, skf = PSD[(rname, cname)]
        p.xaxis[0].ticker = FixedTicker(ticks=[1, 10, 55], minor_ticks=[0.6, 0.7, 0.8, 0.9, 2, 3, 4, 5, 6, 7, 8, 9, 20, 30, 40, 50])
        p.xaxis[0].formatter = CustomJSTickFormatter(code="return String(tick);")
        p.yaxis[0].ticker = FixedTicker(ticks=[1e-6, 1e-2], minor_ticks=[1e-5, 1e-4, 1e-3])
        p.yaxis[0].formatter = CustomJSTickFormatter(code=SUPER_JS)
        p.line(PSD_FREQ, [10 ** v for v in base], line_color=BLACK, line_width=1.3)
        p.line(PSD_FREQ, [10 ** v for v in skf], line_color=RED_PSD, line_width=1.3)
        if ri == 0 and ci == 0:
            p.add_layout(Label(x=50, y=hi, text=LEGEND[0], text_align="right", text_baseline="middle",
                               text_font=FONT, text_font_size="8.5px", text_font_style="bold", text_color=BLACK))
            p.add_layout(Label(x=50, y=hi, y_offset=-14, text=LEGEND[1], text_align="right", text_baseline="middle",
                               text_font=FONT, text_font_size="8.5px", text_font_style="bold", text_color=RED_PSD))
    else:
        _, _, ticks = LINE_YAXIS[(rname, cname)]
        bm, bs, sm, ss = CURVES[(rname, cname)]
        p.xaxis[0].ticker = FixedTicker(ticks=[5, 10, 15, 20])
        p.yaxis[0].ticker = FixedTicker(ticks=ticks)
        p.yaxis[0].formatter = CustomJSTickFormatter(code=PLAIN_JS)
        p.varea(x=FREQ, y1=[max(lo, m - s) for m, s in zip(bm, bs)], y2=[min(hi, m + s) for m, s in zip(bm, bs)],
                fill_color=GREY_BAND, fill_alpha=0.65)
        p.varea(x=FREQ, y1=[max(lo, m - s) for m, s in zip(sm, ss)], y2=[min(hi, m + s) for m, s in zip(sm, ss)],
                fill_color=RED_BAND, fill_alpha=0.55)
        p.line(FREQ, bm, line_color=BLACK, line_width=1.6)
        p.line(FREQ, sm, line_color=RED_LINE, line_width=1.6)
    return p


def jitter(vals, span):
    xs = [0.0] * len(vals)
    order = sorted(range(len(vals)), key=lambda i: vals[i])
    groups = []
    for i in order:
        if groups and abs(vals[i] - vals[groups[-1][-1]]) < 0.035 * span:
            groups[-1].append(i)
        else:
            groups.append([i])
    for g in groups:
        k = len(g)
        for j, i in enumerate(g):
            xs[i] = (j - (k - 1) / 2) * 0.26
    return xs


def decimals(ticks):
    d = 1
    for t in ticks:
        s = repr(float(t))
        if "." in s:
            d = max(d, len(s.split(".")[1].rstrip("0")))
    return d


def bar_fig(ri, ci, bi):
    rname, cname = ROWS[ri], COLS[ci]
    means, sems, pts, yax = BARS[(rname, cname)]
    lo, hi, ticks = yax[bi]
    l, fw, r = BAR_GEOM[ci][bi]
    H, T, B, E = ROW_H[ri], ROW_T[ri], ROW_B[ri], EXTS[ri]
    span_px = H - T - B - E
    ext = (hi - lo) * E / span_px
    p = base_fig(l + fw + r, H, l, r, T, B, x_range=Range1d(-0.78, 1.55), y_range=Range1d(lo, hi + ext))
    ya = p.yaxis[0]
    ya.bounds = (lo, hi)
    ya.ticker = FixedTicker(ticks=ticks)
    ya.formatter = PrintfTickFormatter(format="%%.%df" % decimals(ticks))
    ya.axis_line_color = "#111111"
    ya.axis_line_width = 1.2
    ya.major_tick_line_color = "#111111"
    ya.major_tick_line_width = 1.2
    ya.major_tick_out = 3
    ya.major_tick_in = 0
    ya.minor_tick_line_color = None
    ya.major_label_text_font = FONT
    ya.major_label_text_font_size = "7px"
    ya.major_label_text_font_style = "bold"
    ya.major_label_text_color = "#111111"
    ya.major_label_standoff = 2
    xa = p.xaxis[0]
    xa.ticker = FixedTicker(ticks=[])
    xa.axis_line_color = "#111111"
    xa.axis_line_width = 1.2
    xa.major_tick_line_color = None
    xa.minor_tick_line_color = None

    fills = [BLACK, RED_BAR]
    outlines = [BLACK, "#3a3a3a"]
    for gi in range(2):
        m, s, pv = means[gi][bi], sems[gi][bi], pts[gi][bi]
        p.vbar(x=[gi], top=[m], bottom=lo, width=0.72, fill_color=fills[gi], line_color=outlines[gi], line_width=0.8)
        p.segment(x0=[gi], y0=[m], x1=[gi], y1=[m + s], line_color="#7a7a7a", line_width=1)
        p.segment(x0=[gi - 0.16], y0=[m + s], x1=[gi + 0.16], y1=[m + s], line_color="#7a7a7a", line_width=1)
        xs = [gi + dx for dx in jitter(pv, hi - lo)]
        p.scatter(x=xs, y=pv, marker="circle", size=4.6, fill_color="white", line_color="#8c8c8c", line_width=0.9)
    for (sr, sc, sb, sym, level) in SIG_MARKS:
        if sr == rname and sc == cname and sb == bi:
            p.segment(x0=[0], y0=[level], x1=[1], y1=[level], line_color="#9a9a9a", line_width=1.2)
            p.text(x=[0.5], y=[level], text=[sym], text_align="center", text_baseline="bottom", y_offset=-1,
                   text_font={"value": FONT}, text_font_size="12px", text_font_style="bold", text_color="#111111")
    return p


# ======================= BUILD =======================
head = base_fig(1108, TITLE_H, 0, 0, 0, 0, x_range=Range1d(0, 1108), y_range=Range1d(0, TITLE_H),
                x_axis_location=None, y_axis_location=None)
head.add_layout(Label(x=9, y=TITLE_H - 46, text="A", text_font=FONT, text_font_size="49px",
                      text_color="#000000", text_baseline="alphabetic"))
for cx, t in zip(COL_TITLE_X, COL_TITLES):
    head.add_layout(Label(x=cx, y=TITLE_H - 53, text=t, text_font=FONT, text_font_size="20px",
                          text_font_style="bold", text_align="center", text_baseline="alphabetic", text_color="#000000"))
for ci in range(3):
    for bi in range(3):
        head.add_layout(Label(x=HEADER_X[ci][bi], y=TITLE_H - 74, text=BANDS[bi], text_font=FONT,
                              text_font_size="8.5px", text_font_style="bold", text_align="center",
                              text_baseline="middle", text_color="#111111"))

rows = [head]
for ri in range(len(ROWS)):
    figs = []
    for ci in range(len(COLS)):
        figs.append(line_fig(ri, ci))
        for bi in range(3):
            figs.append(bar_fig(ri, ci, bi))
    rows.append(row(*figs, spacing=0))

layout = column(*rows, spacing=0)
open("out.html", "w").write(file_html(layout, INLINE, "SKF 1 ug"))
